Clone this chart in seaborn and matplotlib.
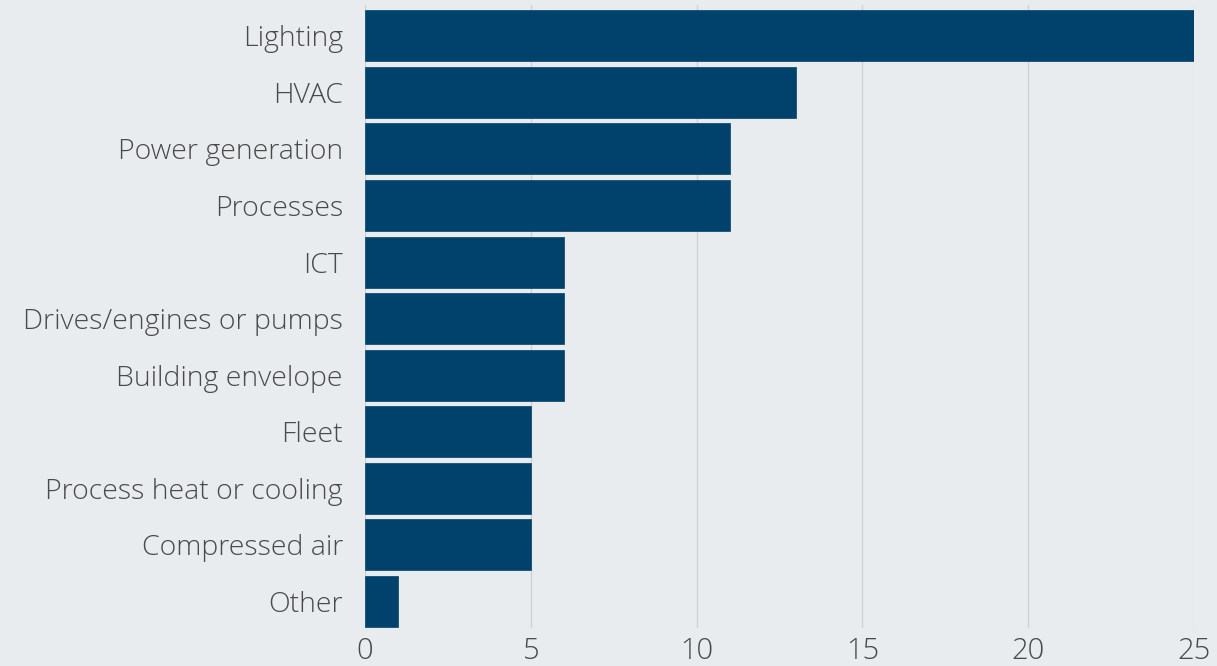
import matplotlib
matplotlib.use("Agg")
import matplotlib.pyplot as plt
import seaborn as sns
import pandas as pd

categories = ["Lighting", "HVAC", "Power generation", "Processes", "ICT",
              "Drives/engines or pumps", "Building envelope", "Fleet",
              "Process heat or cooling", "Compressed air", "Other"]
values = [25, 13, 11, 11, 6, 6, 6, 5, 5, 5, 1]
x_ticks = [0, 5, 10, 15, 20, 25]

BG = "#E9ECEF"
BAR = "#00426B"

sns.set_theme(style="whitegrid")
plt.rcParams["font.family"] = ["Open Sans", "DejaVu Sans"]

df = pd.DataFrame({"category": categories, "value": values})

fig = plt.figure(figsize=(12.17, 6.66), dpi=100, facecolor=BG)
ax = fig.add_axes([0.300, 0.057, 0.681, 0.936])
ax.set_facecolor(BG)

sns.barplot(data=df, x="value", y="category", orient="h", color=BAR,
            saturation=1, width=0.9, ax=ax, edgecolor=BAR, linewidth=0.5)

ax.set_xlim(0, 25)
ax.set_ylim(10.47, -0.55)
ax.set_xticks(x_ticks)
ax.set_xlabel("")
ax.set_ylabel("")
ax.grid(axis="x", color="#CDD1D6", linewidth=1.0)
ax.grid(axis="y", visible=False)
ax.set_axisbelow(True)
for s in ax.spines.values():
    s.set_visible(False)
ax.tick_params(axis="both", length=0, labelcolor="#4A4A4A")
ax.tick_params(axis="y", pad=16, labelsize=20.5)
ax.tick_params(axis="x", pad=6, labelsize=21)
for lab in ax.get_yticklabels() + ax.get_xticklabels():
    lab.set_fontweight("light")

fig.savefig("out.png", dpi=100, facecolor=BG)
